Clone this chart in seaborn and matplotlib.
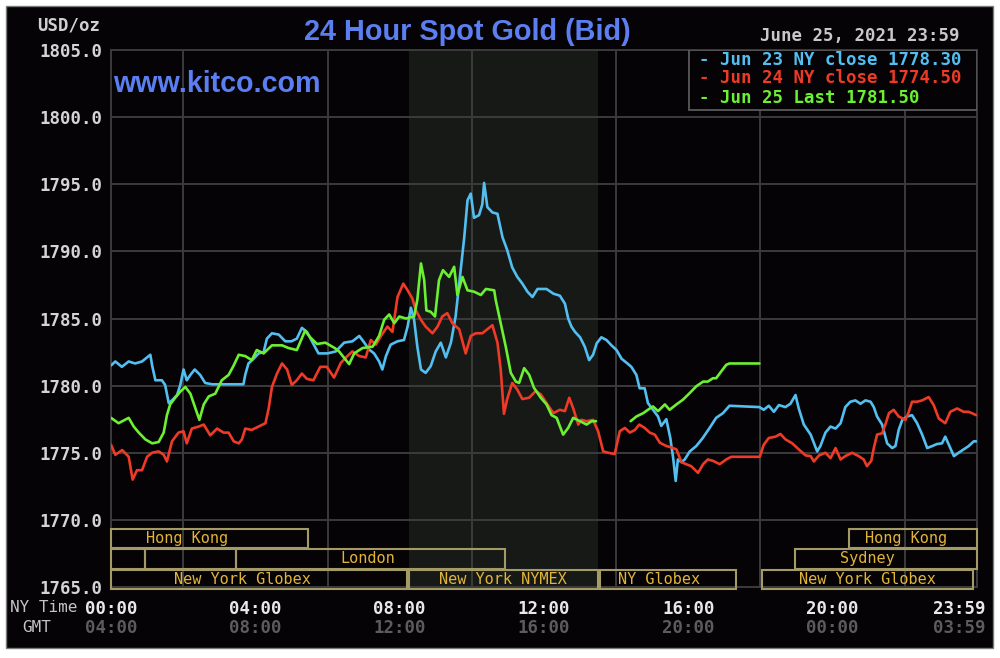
import matplotlib
matplotlib.use("Agg")
import numpy as np
import pandas as pd
import matplotlib.pyplot as plt
import seaborn as sns
from matplotlib.patches import Rectangle
from matplotlib.ticker import FormatStrFormatter
from matplotlib.transforms import blended_transform_factory, ScaledTranslation

# ---- data (hours = NY time, price in USD/oz) ----
series_names = ["Jun 23 NY close", "Jun 24 NY close", "Jun 25 Last"]
series_closes = ["1778.30", "1774.50", "1781.50"]
series_colors = ["#52bff0", "#ee3a26", "#6cf032"]

jun23_hours = [0, 0.12, 0.3, 0.49, 0.67, 0.86, 1.09, 1.14, 1.23, 1.41, 1.5, 1.6, 1.69, 1.83, 1.92,
               2.01, 2.1, 2.2, 2.32, 2.47, 2.61, 2.8, 3.67, 3.72, 3.81, 3.95, 4.09, 4.23, 4.32, 4.46,
               4.65, 4.83, 5.0, 5.15, 5.29, 5.43, 5.57, 5.75, 6.0, 6.23, 6.46, 6.69, 6.88, 7.02, 7.15,
               7.29, 7.43, 7.52, 7.62, 7.75, 7.94, 8.12, 8.22, 8.31, 8.4, 8.49, 8.59, 8.72, 8.86, 9.0,
               9.14, 9.28, 9.42, 9.55, 9.65, 9.79, 9.88, 9.97, 10.06, 10.2, 10.29, 10.34, 10.43, 10.57,
               10.71, 10.85, 10.98, 11.12, 11.26, 11.4, 11.54, 11.68, 11.82, 12.07, 12.26, 12.44, 12.58,
               12.67, 12.76, 12.86, 13.0, 13.13, 13.25, 13.36, 13.46, 13.59, 13.73, 13.87, 14.01, 14.15,
               14.29, 14.42, 14.56, 14.65, 14.79, 14.88, 15.02, 15.16, 15.25, 15.39, 15.5, 15.58, 15.65,
               15.71, 15.81, 15.9, 16.04, 16.22, 16.4, 16.59, 16.77, 16.96, 17.14, 17.97, 18.09, 18.23,
               18.37, 18.51, 18.69, 18.83, 18.97, 19.06, 19.2, 19.39, 19.57, 19.66, 19.8, 19.94, 20.08,
               20.22, 20.35, 20.49, 20.63, 20.77, 20.91, 21.05, 21.14, 21.23, 21.37, 21.51, 21.65, 21.74,
               21.83, 21.93, 22.06, 22.2, 22.34, 22.48, 22.62, 22.76, 22.89, 23.03, 23.12, 23.22, 23.36,
               23.49, 23.63, 23.77, 23.91, 23.98]
jun23_price = [1781.5, 1781.8, 1781.4, 1781.8, 1781.65, 1781.8, 1782.3, 1781.5, 1780.4, 1780.4, 1780.05,
               1778.7, 1778.9, 1779.3, 1780.05, 1781.2, 1780.4, 1780.8, 1781.2, 1780.8, 1780.2, 1780.1,
               1780.1, 1780.8, 1781.65, 1782.0, 1782.4, 1782.5, 1783.5, 1783.9, 1783.8, 1783.3, 1783.3,
               1783.5, 1784.3, 1784.0, 1783.3, 1782.4, 1782.4, 1782.55, 1783.2, 1783.3, 1783.7, 1783.2,
               1782.7, 1782.4, 1781.8, 1781.2, 1782.2, 1783.05, 1783.3, 1783.4, 1784.4, 1785.8, 1784.9,
               1782.9, 1781.2, 1780.95, 1781.45, 1782.55, 1783.2, 1782.1, 1783.2, 1785.15, 1787.6, 1791.05,
               1793.8, 1794.3, 1792.5, 1792.7, 1793.5, 1795.1, 1793.3, 1792.9, 1792.8, 1791.05, 1790.1,
               1788.8, 1788.1, 1787.6, 1787.0, 1786.6, 1787.2, 1787.2, 1786.85, 1786.7, 1786.1, 1785.0,
               1784.4, 1784.0, 1783.6, 1782.9, 1781.9, 1782.3, 1783.15, 1783.6, 1783.4, 1783.0, 1782.65,
               1782.0, 1781.7, 1781.4, 1780.8, 1779.8, 1779.8, 1778.7, 1778.2, 1777.7, 1777.0, 1777.5,
               1776.1, 1774.6, 1772.9, 1774.5, 1774.3, 1774.5, 1775.1, 1775.5, 1776.1, 1776.85, 1777.6,
               1777.95, 1778.5, 1778.4, 1778.2, 1778.5, 1778.05, 1778.55, 1778.4, 1778.65, 1779.3, 1778.3,
               1777.1, 1776.35, 1775.1, 1775.5, 1776.5, 1776.95, 1776.8, 1777.2, 1778.4, 1778.8, 1778.9,
               1778.65, 1778.9, 1778.8, 1778.4, 1777.7, 1777.1, 1775.7, 1775.35, 1775.5, 1776.7, 1777.45,
               1777.7, 1777.8, 1777.2, 1776.35, 1775.35, 1775.5, 1775.65, 1775.7, 1776.2, 1775.6, 1774.75,
               1775.0, 1775.25, 1775.5, 1775.85, 1775.85]

jun24_hours = [0, 0.12, 0.31, 0.49, 0.6, 0.72, 0.86, 1.0, 1.14, 1.32, 1.46, 1.55, 1.69, 1.87, 2.01, 2.1,
               2.24, 2.43, 2.57, 2.75, 2.94, 3.12, 3.26, 3.4, 3.54, 3.63, 3.72, 3.9, 4.09, 4.28, 4.37, 4.46,
               4.6, 4.74, 4.88, 5.01, 5.15, 5.29, 5.43, 5.61, 5.8, 5.98, 6.18, 6.37, 6.55, 6.69, 6.88, 7.06,
               7.2, 7.34, 7.48, 7.66, 7.8, 7.94, 8.1, 8.22, 8.35, 8.45, 8.59, 8.72, 8.91, 9.05, 9.18, 9.32,
               9.46, 9.65, 9.83, 9.97, 10.11, 10.29, 10.43, 10.57, 10.71, 10.8, 10.89, 10.98, 11.12, 11.26,
               11.4, 11.59, 11.77, 11.91, 12.07, 12.26, 12.44, 12.58, 12.7, 12.81, 12.95, 13.04, 13.18,
               13.36, 13.5, 13.64, 13.78, 13.96, 14.1, 14.24, 14.38, 14.52, 14.64, 14.79, 14.93, 15.07,
               15.21, 15.39, 15.53, 15.67, 15.81, 15.94, 16.08, 16.27, 16.41, 16.54, 16.68, 16.87, 17.05,
               17.19, 17.98, 18.09, 18.23, 18.42, 18.55, 18.69, 18.88, 19.06, 19.25, 19.39, 19.48, 19.62,
               19.8, 19.94, 20.08, 20.22, 20.35, 20.54, 20.72, 20.86, 20.95, 21.07, 21.14, 21.23, 21.37,
               21.46, 21.56, 21.69, 21.83, 22.02, 22.11, 22.2, 22.34, 22.48, 22.66, 22.8, 22.94, 23.12,
               23.26, 23.45, 23.63, 23.77, 23.98]
jun24_price = [1775.6, 1774.85, 1775.2, 1774.7, 1773.0, 1773.7, 1773.7, 1774.7, 1775.0, 1775.1, 1774.85,
               1774.35, 1775.85, 1776.5, 1776.6, 1775.7, 1776.8, 1776.95, 1777.1, 1776.3, 1776.8, 1776.5,
               1776.5, 1775.85, 1775.7, 1776.0, 1776.8, 1776.7, 1776.95, 1777.2, 1778.3, 1779.9, 1780.9,
               1781.65, 1781.2, 1780.05, 1780.4, 1780.9, 1780.5, 1780.4, 1781.4, 1781.4, 1780.6, 1781.7,
               1782.2, 1782.55, 1782.2, 1782.1, 1783.4, 1783.05, 1783.7, 1784.4, 1784.0, 1786.6, 1787.6,
               1787.1, 1786.5, 1785.6, 1784.9, 1784.4, 1783.9, 1784.4, 1785.15, 1785.4, 1784.65, 1784.2,
               1782.4, 1783.7, 1783.9, 1783.9, 1784.2, 1784.5, 1783.2, 1781.2, 1777.9, 1779.0, 1780.2,
               1779.7, 1779.0, 1779.1, 1779.6, 1779.35, 1778.7, 1777.95, 1778.2, 1778.1, 1779.1, 1778.3,
               1777.1, 1777.45, 1777.35, 1777.45, 1776.6, 1775.1, 1775.0, 1774.9, 1776.6, 1776.85, 1776.5,
               1776.7, 1777.1, 1776.85, 1776.5, 1776.35, 1775.75, 1775.5, 1775.4, 1775.25, 1774.3, 1774.15,
               1774.0, 1773.5, 1774.15, 1774.5, 1774.4, 1774.15, 1774.5, 1774.7, 1774.7, 1775.6, 1776.1,
               1776.2, 1776.4, 1776.0, 1775.7, 1775.25, 1774.8, 1774.75, 1774.35, 1774.8, 1775.0, 1774.6,
               1775.35, 1774.5, 1774.75, 1775.0, 1774.75, 1774.5, 1774.0, 1774.4, 1775.35, 1776.35, 1776.45,
               1777.1, 1777.95, 1778.2, 1777.7, 1777.45, 1778.05, 1778.8, 1778.8, 1778.9, 1779.15, 1778.55,
               1777.55, 1777.2, 1778.05, 1778.3, 1778.05, 1778.05, 1777.8]

# Jun 25: morning session up to the NYMEX close, then the evening stretch
jun25_hours = [0, 0.21, 0.49, 0.63, 0.77, 0.95, 1.14, 1.32, 1.46, 1.55, 1.64, 1.78, 1.92, 2.06, 2.2,
               2.34, 2.45, 2.57, 2.71, 2.89, 3.07, 3.26, 3.4, 3.54, 3.72, 3.9, 4.04, 4.23, 4.46, 4.74,
               4.92, 5.15, 5.38, 5.52, 5.71, 5.94, 6.2, 6.32, 6.6, 6.74, 6.97, 7.25, 7.43, 7.57, 7.71,
               7.85, 7.99, 8.17, 8.4, 8.49, 8.59, 8.68, 8.74, 8.86, 8.98, 9.09, 9.2, 9.37, 9.51, 9.6,
               9.74, 9.88, 10.06, 10.25, 10.39, 10.62, 10.66, 10.8, 10.94, 11.08, 11.22, 11.31, 11.45,
               11.59, 11.72, 11.91, 12.07, 12.21, 12.35, 12.53, 12.67, 12.81, 13.0, 13.18, 13.32, 13.44]
jun25_price = [1777.6, 1777.2, 1777.6, 1776.95, 1776.5, 1776.0, 1775.7, 1775.8, 1776.5, 1777.8, 1778.6,
               1779.1, 1779.55, 1779.9, 1779.4, 1778.3, 1777.45, 1778.6, 1779.2, 1779.4, 1780.4, 1780.8,
               1781.5, 1782.3, 1782.2, 1781.9, 1782.65, 1782.4, 1783.0, 1783.0, 1782.8, 1782.65, 1784.1,
               1783.6, 1783.1, 1783.2, 1782.8, 1782.55, 1781.6, 1782.4, 1782.8, 1782.9, 1783.7, 1784.9,
               1785.3, 1784.65, 1785.15, 1785.0, 1785.15, 1786.4, 1789.1, 1787.85, 1785.6, 1785.5, 1785.15,
               1787.85, 1788.6, 1788.1, 1788.85, 1786.75, 1788.1, 1787.1, 1787.0, 1786.75, 1787.2, 1787.1,
               1786.4, 1784.65, 1782.9, 1780.95, 1780.3, 1780.2, 1781.3, 1780.8, 1779.85, 1779.1, 1778.6,
               1777.8, 1777.6, 1776.35, 1776.85, 1777.6, 1777.35, 1777.1, 1777.35, 1777.35]
jun25_late_hours = [14.4, 14.56, 14.75, 14.88, 15.02, 15.16, 15.35, 15.48, 15.67, 15.85, 16.04, 16.22,
                    16.41, 16.54, 16.68, 16.77, 16.91, 17.05, 17.14, 17.97]
jun25_late_price = [1777.35, 1777.7, 1777.95, 1778.2, 1778.45, 1778.1, 1778.6, 1778.2, 1778.6, 1778.95,
                    1779.45, 1779.95, 1780.3, 1780.3, 1780.55, 1780.55, 1781.05, 1781.55, 1781.65, 1781.65]

# market sessions: row, start hour, end hour, label, label hour
session_rows = [0, 0, 1, 1, 1, 1, 2, 2, 2, 2]
session_start = [0, 20.45, 0, 0.94, 3.46, 18.96, 0, 8.27, 13.55, 18.04]
session_end = [5.46, 24, 0.94, 3.46, 10.92, 24, 8.2, 13.5, 17.32, 23.89]
session_labels = ["Hong Kong", "Hong Kong", "", "", "London", "Sydney",
                  "New York Globex", "New York NYMEX", "NY Globex", "New York Globex"]
session_label_at = [2.1, 22.03, 0, 0, 7.12, 20.97, 3.63, 10.86, 15.19, 20.95]
row_bottom = [1767.94, 1766.35, 1764.86]
row_top = [1769.33, 1767.84, 1766.27]

ny_ticks = [0, 4, 8, 12, 16, 20, 23.983]
ny_labels = ["00:00", "04:00", "08:00", "12:00", "16:00", "20:00", "23:59"]
gmt_labels = ["04:00", "08:00", "12:00", "16:00", "20:00", "00:00", "03:59"]
nymex_open, nymex_close = 8.27, 13.5

# ---- long form table ----
frames = []
for name, close, hrs, prc, seg in [
    (series_names[0], series_closes[0], jun23_hours, jun23_price, "a"),
    (series_names[1], series_closes[1], jun24_hours, jun24_price, "a"),
    (series_names[2], series_closes[2], jun25_hours, jun25_price, "a"),
    (series_names[2], series_closes[2], jun25_late_hours, jun25_late_price, "b"),
]:
    frames.append(pd.DataFrame({"hour": hrs, "price": prc,
                                "series": f"{name} {close}", "seg": seg}))
df = pd.concat(frames, ignore_index=True)
labels = [f"{n} {c}" for n, c in zip(series_names, series_closes)]

BG = "#050305"
GRID = "#3b3b3b"
BOX = "#a39a66"
GOLD = "#e2b43a"
BLUE = "#5b7ef0"
MONO = "DejaVu Sans Mono"
SANS = "Liberation Sans"

sns.set_style("dark")
plt.rcParams["font.family"] = ["DejaVu Sans"]

fig = plt.figure(figsize=(10, 6.58), dpi=100, facecolor="white")
fig.add_artist(Rectangle((0.006, 1 - 648 / 658), 0.987, 642 / 658, transform=fig.transFigure,
                         facecolor=BG, edgecolor="#7a7a7a", lw=1, zorder=-10))
ax = fig.add_axes([0.111, 1 - 587 / 658, 0.866, 537 / 658])
ax.set_facecolor(BG)

ax.axvspan(nymex_open, nymex_close, color="#161916", zorder=0, lw=0)

sns.lineplot(data=df, x="hour", y="price", hue="series", units="seg", estimator=None,
             sort=False, hue_order=labels, palette=dict(zip(labels, series_colors)),
             linewidth=1.9, legend=False, ax=ax, zorder=4)

ax.set_xlim(0, 24)
ax.set_ylim(1765, 1805)
ax.set_xticks(np.arange(0, 25, 2), minor=True)
ax.set_xticks(ny_ticks)
ax.set_xticklabels(ny_labels)
ax.set_yticks(np.arange(1765, 1806, 5))
ax.yaxis.set_major_formatter(FormatStrFormatter("%.1f"))
ax.set_axisbelow(True)
ax.grid(False)
ax.grid(True, which="minor", axis="x", color=GRID, lw=1.4)
ax.grid(True, which="major", axis="y", color=GRID, lw=1.4)
ax.tick_params(which="both", length=0)
ax.tick_params(axis="y", pad=6.5, labelcolor="#d4d4d4")
ax.tick_params(axis="x", pad=9, labelcolor="#e8e8e8")
for lab in ax.get_xticklabels() + ax.get_yticklabels():
    lab.set_fontfamily(MONO)
    lab.set_fontweight("bold")
    lab.set_fontsize(12.5)
last = ax.get_xticklabels()[-1]
last.set_horizontalalignment("right")
last.set_transform(last.get_transform() + ScaledTranslation(9 / 100, 0, fig.dpi_scale_trans))
ax.set_xlabel("")
ax.set_ylabel("")
for sp in ax.spines.values():
    sp.set_color(GRID)
    sp.set_linewidth(1.4)
    sp.set_visible(True)

trans = blended_transform_factory(ax.transData, ax.transAxes)
for i, (x, g) in enumerate(zip(ny_ticks, gmt_labels)):
    ha = "right" if i == len(ny_ticks) - 1 else "center"
    t = ax.text(x, -0.0765, g, transform=trans, ha=ha, va="center", color="#5c5c5c",
                family=MONO, weight="bold", fontsize=12.5)
    if ha == "right":
        t.set_transform(trans + ScaledTranslation(9 / 100, 0, fig.dpi_scale_trans))

# market session boxes
for r, s, e, lab, lx in zip(session_rows, session_start, session_end, session_labels, session_label_at):
    ax.add_patch(Rectangle((s, row_bottom[r]), e - s, row_top[r] - row_bottom[r], facecolor="none",
                           edgecolor=BOX, lw=1.5, zorder=3, clip_on=False))
    if lab:
        ax.text(lx, (row_bottom[r] + row_top[r]) / 2, lab, ha="center", va="center", color=GOLD,
                family=MONO, fontsize=11, zorder=3)

# legend box
ax.add_patch(Rectangle((16.02, 1800.53), 24 - 16.02, 1805 - 1800.53, facecolor=BG,
                       edgecolor="#5a5a5a", lw=1.3, zorder=5))
for lab, col, y in zip(labels, series_colors, [1804.25, 1802.91, 1801.42]):
    ax.text(16.3, y, f"- {lab}", color=col, family=MONO, weight="bold", fontsize=12.5,
            ha="left", va="center", zorder=6)

# headings
fig.text(0.4675, 1 - 40 / 658, "24 Hour Spot Gold (Bid)", ha="center", va="baseline",
         color=BLUE, family=SANS, weight="bold", fontsize=20.8)
fig.text(0.113, 1 - 91.5 / 658, "www.kitco.com", ha="left", va="baseline", color=BLUE,
         family=SANS, weight="bold", fontsize=20.6)
fig.text(0.960, 1 - 36 / 658, "June 25, 2021 23:59", ha="right", va="center", color="#c8c8c8",
         family=MONO, weight="bold", fontsize=12.5)
fig.text(0.100, 1 - 26 / 658, "USD/oz", ha="right", va="center", color="#d0d0d0",
         family=MONO, weight="bold", fontsize=12.5)
fig.text(0.010, 1 - 607 / 658, "NY Time", ha="left", va="center", color="#c4c4c4",
         family=MONO, fontsize=11.5)
fig.text(0.022, 1 - 628 / 658, "GMT", ha="left", va="center", color="#c4c4c4",
         family=MONO, fontsize=11.5)

fig.savefig("out.png", dpi=100, facecolor="white")
